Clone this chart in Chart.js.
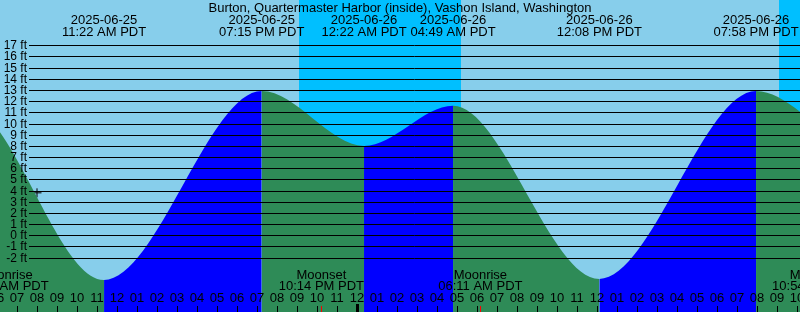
<!DOCTYPE html>
<html>
<head>
<meta charset="utf-8">
<script src="https://cdn.jsdelivr.net/npm/chart.js@4.4.0/dist/chart.umd.min.js"></script>
<style>
  html, body { margin: 0; padding: 0; background: #87ceeb; }
  canvas { display: block; }
</style>
</head>
<body>
<canvas id="tide" width="800" height="312"></canvas>
<script>
// hours counted from 2025-06-25 00:00 PDT (first and last two are just outside the window)
const tideTimes = [-0.4, 4.42, 11.367, 19.25, 24.367, 28.817, 36.133, 43.967, 49.25, 53.6];
const tideLevels = [8.1, 11.7, -4.0, 12.9, 8.0, 11.6, -3.9, 12.9, 8.0, 11.5];

// labelled tide events (the ones inside the window)
const eventTimes = [11.367, 19.25, 24.367, 28.817, 36.133, 43.967];
const eventDates = ['2025-06-25', '2025-06-25', '2025-06-26', '2025-06-26', '2025-06-26', '2025-06-26'];
const eventClock = ['11:22 AM PDT', '07:15 PM PDT', '12:22 AM PDT', '04:49 AM PDT', '12:08 PM PDT', '07:58 PM PDT'];

const moonTimes = [5.23, 22.233, 30.183, 46.9];
const moonNames = ['Moonrise', 'Moonset', 'Moonrise', 'Moonset'];
const moonClock = ['05:14 AM PDT', '10:14 PM PDT', '06:11 AM PDT', '10:54 PM PDT'];

// night = sunset .. sunrise
const nightStart = [21.115, 45.115];
const nightEnd = [29.21, 53.2];

const feetTicks = [-2, -1, 0, 1, 2, 3, 4, 5, 6, 7, 8, 9, 10, 11, 12, 13, 14, 15, 16, 17];
const nowTime = [8.015];
const nowLevel = [3.8];

const title = 'Burton, Quartermaster Harbor (inside), Vashon Island, Washington';
const FONT = '13px "Liberation Sans", Arial, sans-serif';
const AXIS_FONT = '12px "Liberation Sans", Arial, sans-serif';

function hourLabel(h) {
  let v = ((h % 12) + 12) % 12;
  if (v === 0) v = 12;
  return String(v).padStart(2, '0');
}

const tidePlugin = {
  id: 'tide',
  beforeDatasetsDraw(chart) {
    const c = chart.ctx;
    const xs = chart.scales.x;
    c.save();
    c.fillStyle = '#87ceeb';
    c.fillRect(0, 0, chart.width, chart.height);
    c.fillStyle = '#00bfff';
    for (let i = 0; i < nightStart.length; i++) {
      const a = Math.round(xs.getPixelForValue(nightStart[i]));
      const b = Math.round(xs.getPixelForValue(nightEnd[i]));
      c.fillRect(a, 0, b - a, chart.height);
    }
    c.restore();
  },
  afterDatasetsDraw(chart) {
    const c = chart.ctx;
    const xs = chart.scales.x;
    const ys = chart.scales.y;
    c.save();
    // horizontal lines + labels
    c.strokeStyle = '#000';
    c.lineWidth = 1;
    c.font = AXIS_FONT;
    c.fillStyle = '#000';
    c.textAlign = 'right';
    c.textBaseline = 'middle';
    feetTicks.forEach(v => {
      const y = Math.round(ys.getPixelForValue(v)) + 0.5;
      c.beginPath();
      c.moveTo(29, y);
      c.lineTo(chart.width, y);
      c.stroke();
      c.fillText(v + ' ft', 27, y);
    });

    // title and tide events
    c.font = FONT;
    c.textAlign = 'center';
    c.textBaseline = 'alphabetic';
    c.fillText(title, chart.width / 2, 11.5);
    eventTimes.forEach((t, i) => {
      const x = xs.getPixelForValue(t);
      c.fillText(eventDates[i], x, 24);
      c.fillText(eventClock[i], x, 36);
    });

    // moon events
    moonTimes.forEach((t, i) => {
      let x = xs.getPixelForValue(t);
      if (x < 0) x = 6;
      c.fillText(moonNames[i], x, 278.5);
      c.fillText(moonClock[i], x, 289.5);
    });

    // hour ticks
    for (let h = Math.floor(xs.min); h <= Math.ceil(xs.max); h++) {
      const x = Math.round(xs.getPixelForValue(h));
      c.fillText(hourLabel(h), x, 301.5);
      if (h % 24 === 0) c.fillRect(x - 1, 304, 3, 8);
      else c.fillRect(x, 306, 1, 6);
    }
    c.fillStyle = '#ff0000';
    moonTimes.forEach(t => {
      const x = Math.round(xs.getPixelForValue(t));
      c.fillRect(x, 306, 1, 6);
    });
    c.restore();
  }
};

new Chart(document.getElementById('tide'), {
  type: 'line',
  data: {
    datasets: [{
      data: tideTimes.map((t, i) => ({ x: t, y: tideLevels[i] })),
      cubicInterpolationMode: 'monotone',
      fill: 'start',
      borderColor: 'rgba(0,0,0,0)',
      backgroundColor: '#2e8b57',
      pointRadius: 0,
      segment: {
        backgroundColor: ctx => ctx.p1.parsed.y > ctx.p0.parsed.y ? '#0000ff' : '#2e8b57'
      }
    }, {
      type: 'scatter',
      data: nowTime.map((t, i) => ({ x: t, y: nowLevel[i] })),
      pointStyle: 'cross',
      pointRadius: 4.5,
      borderColor: '#000',
      borderWidth: 1,
      backgroundColor: '#000'
    }]
  },
  options: {
    responsive: false,
    animation: false,
    devicePixelRatio: 1,
    layout: { padding: 0, autoPadding: false },
    plugins: { legend: { display: false }, tooltip: { enabled: false } },
    scales: {
      x: { type: 'linear', min: 6.165, max: 46.165, display: false },
      y: { min: -6.86, max: 21.05, display: false }
    }
  },
  plugins: [tidePlugin]
});
</script>
</body>
</html>
